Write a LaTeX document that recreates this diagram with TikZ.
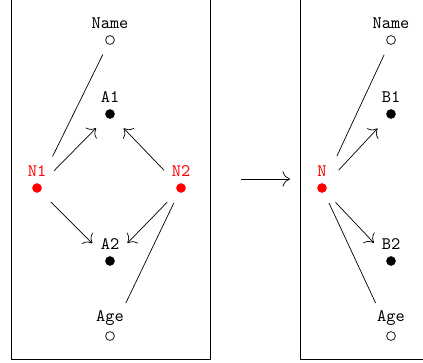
\documentclass[tikz,border=0pt]{standalone}
\usepackage{tikz}
\usetikzlibrary{arrows.meta,positioning}

\begin{document}
\begin{tikzpicture}[->,>={To[scale=1.7]},thin,
    attr/.style={circle, draw, fill=white, inner sep=0pt, minimum size=5pt, label={above:\texttt{#1}}},
    val/.style={circle, fill, inner sep=0pt, minimum size=5.5pt, label={above:\texttt{#1}}},
    key/.style={circle, fill=red, inner sep=0pt, minimum size=5.5pt, label={[red]above:\texttt{#1}}},
    uptie/.style={-, shorten <=17pt, shorten >=6.5pt},
    downtie/.style={-, shorten <=6.5pt, shorten >=18pt},
    uparr/.style={shorten <=11pt, shorten >=8.3pt},
    downarr/.style={shorten <=8.3pt, shorten >=11.3pt}]
    \useasboundingbox (0,0) rectangle (8.46,-7.24);
    % the two tables
    \draw[-, line width=0.5pt] (0.22,0.5) rectangle (4.2,-7.18);
    \draw[-, line width=0.5pt] (6.0,0.5) rectangle (9.0,-7.18);
    % before
    \node[attr=Name] (name1) at (2.2, -0.8) {};
    \node[val=A1] (a1) at (2.2, -2.28) {};
    \node[key=N1] (n1) at (0.74, -3.76) {};
    \node[key=N2] (n2) at (3.62, -3.76) {};
    \node[val=A2] (a2) at (2.2, -5.22) {};
    \node[attr=Age] (age1) at (2.2, -6.72) {};
    \path (n1) edge[uptie] (name1);
    \path (n1) edge[uparr] (a1);
    \path (n2) edge[uparr] (a1);
    \path (n1) edge[downarr] (a2);
    \path (n2) edge[downarr] (a2);
    \path (n2) edge[downtie] (age1);
    % after
    \node[attr=Name] (name2) at (7.82, -0.8) {};
    \node[val=B1] (b1) at (7.82, -2.28) {};
    \node[key=N] (n) at (6.44, -3.76) {};
    \node[val=B2] (b2) at (7.82, -5.22) {};
    \node[attr=Age] (age2) at (7.82, -6.72) {};
    \path (n) edge[uptie] (name2);
    \path (n) edge[uparr] (b1);
    \path (n) edge[downarr] (b2);
    \path (n) edge[downtie] (age2);
    % step
    \coordinate (before) at (4.82, -3.58);
    \coordinate (after) at (5.8, -3.58);
    \draw (before) -- (after);
\end{tikzpicture}
\end{document}
